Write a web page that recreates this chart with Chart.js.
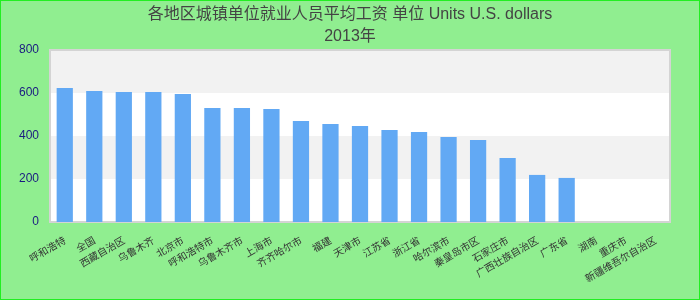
<!DOCTYPE html>
<html><head><meta charset="utf-8">
<script src="https://cdn.jsdelivr.net/npm/chart.js@4/dist/chart.umd.min.js"></script>
<style>html,body{margin:0;padding:0;background:#90EE90;}#c{display:block;}</style>
</head><body>
<canvas id="c" width="700" height="300"></canvas>
<script>
const categories = ["呼和浩特","全国","西藏自治区","乌鲁木齐","北京市","呼和浩特市","乌鲁木齐市","上海市","齐齐哈尔市","福建","天津市","江苏省","浙江省","哈尔滨市","秦皇岛市区","石家庄市","广西壮族自治区","广东省","湖南","重庆市","新疆维吾尔自治区"];
const values = [623,609,605,605,595,530,530,526,470,456,447,428,419,395,381,298,219,205,null,null,null];
const yTicks = [0,200,400,600,800];
const bandRanges = [[200,400],[600,800]];
const titleLines = ["各地区城镇单位就业人员平均工资 单位 Units U.S. dollars","2013年"];

const bgPlugin = {
  id: 'bg',
  beforeDraw(chart) {
    const ctx = chart.ctx, a = chart.chartArea, y = chart.scales.y;
    ctx.save();
    ctx.fillStyle = '#90EE90';
    ctx.fillRect(0,0,chart.width,chart.height);
    ctx.strokeStyle = '#22ee22';
    ctx.lineWidth = 2;
    ctx.strokeRect(0,0,chart.width,chart.height);
    ctx.fillStyle = '#ffffff';
    ctx.fillRect(a.left,a.top,a.right-a.left,a.bottom-a.top);
    ctx.fillStyle = '#f2f2f2';
    bandRanges.forEach(([lo,hi])=>{
      const t = y.getPixelForValue(hi), b = y.getPixelForValue(lo);
      ctx.fillRect(a.left,t,a.right-a.left,b-t);
    });
    ctx.strokeStyle = '#d4d4d4';
    ctx.lineWidth = 2;
    ctx.strokeRect(a.left,a.top,a.right-a.left,a.bottom-a.top);
    ctx.restore();
  }
};

new Chart(document.getElementById('c'), {
  type: 'bar',
  data: { labels: categories, datasets: [{ data: values, backgroundColor: '#62a9f4', barPercentage: 0.55, categoryPercentage: 1.0 }] },
  options: {
    responsive: false, animation: false, devicePixelRatio: 1,
    layout: { padding: 0 },
    plugins: {
      legend: { display: false }, tooltip: { enabled: false },
      title: { display: true, text: titleLines, color: '#444444',
        font: { family: '"Liberation Sans", Arial, "Noto Sans CJK SC", sans-serif', size: 16, weight: 'normal', lineHeight: 1.375 },
        padding: { top: 4, bottom: 2 } }
    },
    scales: {
      x: {
        grid: { display: false }, border: { display: false },
        ticks: { autoSkip: false, minRotation: 30, maxRotation: 30, color: '#333333', padding: 4,
          font: { family: '"Noto Sans CJK SC", sans-serif', size: 10 } },
        afterFit(s) { s.height = 78; }
      },
      y: {
        min: 0, max: 800,
        afterBuildTicks(s) { s.ticks = yTicks.map(v => ({ value: v })); },
        grid: { display: false }, border: { display: false },
        ticks: { color: '#1a1a80', padding: 3, font: { family: '"Liberation Sans", Arial, sans-serif', size: 12 } },
        afterFit(s) { s.width = 50; }
      },
      yRight: {
        position: 'right', min: 0, max: 800,
        grid: { display: false }, border: { display: false },
        ticks: { display: false },
        afterFit(s) { s.width = 30; }
      }
    }
  },
  plugins: [bgPlugin]
});
</script>
</body></html>
